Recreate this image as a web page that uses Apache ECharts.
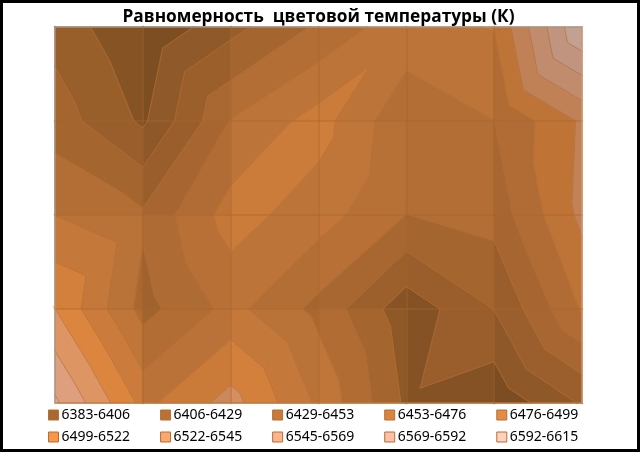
<!DOCTYPE html>
<html>
<head>
<meta charset="utf-8">
<style>html,body{margin:0;padding:0;background:#fff}#c{width:640px;height:452px}</style>
<script src="https://cdn.jsdelivr.net/npm/echarts@6/dist/echarts.min.js"></script>
</head>
<body>
<div id="c"></div>
<script>
const title = 'Равномерность  цветовой температуры (К)';
const thresholds = [6383, 6406, 6429, 6453, 6476, 6499, 6522, 6545, 6569, 6592, 6615];
const bandLabels = ['6383-6406','6406-6429','6429-6453','6453-6476','6476-6499',
                    '6499-6522','6522-6545','6545-6569','6569-6592','6592-6615'];
const row0 = [6420.1, 6385.3, 6421.3, 6456.8, 6492.0, 6500.2, 6615.0];
const row1 = [6441.0, 6402.0, 6477.0, 6508.7, 6457.7, 6475.8, 6525.7];
const row2 = [6475.8, 6456.8, 6509.0, 6486.7, 6452.6, 6461.9, 6528.0];
const row3 = [6522.2, 6444.5, 6483.5, 6446.1, 6391.4, 6429.4, 6501.3];
const row4 = [6573.2, 6492.5, 6531.0, 6471.9, 6401.6, 6387.6, 6431.7];
const bandColors = ['#a9692e','#b97234','#c77a39','#d98540','#e58c44',
                    '#f79646','#f9a870','#fab48e','#fbc0a5','#fcd1bd'];

const grid = [row0, row1, row2, row3, row4];
const step = 23.2;

// Each cell of the surface is cut into four facets that meet at a centre point.
// The cell's left-right slope sets how brightly its facets are lit.
const facets = [], facetShade = [];
for (let r = 0; r < grid.length - 1; r++) {
  for (let c = 0; c < grid[0].length - 1; c++) {
    const tl = [c, r, grid[r][c]], tr = [c + 1, r, grid[r][c + 1]];
    const bl = [c, r + 1, grid[r + 1][c]], br = [c + 1, r + 1, grid[r + 1][c + 1]];
    const mid = [c + .5, r + .5, Math.max((tl[2] + br[2]) / 2, (tr[2] + bl[2]) / 2)];
    facets.push([tl, tr, mid], [tr, br, mid], [br, bl, mid], [bl, tl, mid]);
    const slope = ((tr[2] - tl[2]) + (br[2] - bl[2])) / 2 / step;
    const over = slope > 1.5 ? slope - 1.5 : slope < -1.5 ? slope + 1.5 : 0;
    const k = Math.min(.885, Math.max(.77, .825 - .05 * over));
    facetShade.push(k, k, k, k);
  }
}
function clip(poly, level, keepAbove) {
  const out = [];
  for (let i = 0; i < poly.length; i++) {
    const a = poly[i], b = poly[(i + 1) % poly.length];
    const ina = keepAbove ? a[2] >= level : a[2] <= level;
    const inb = keepAbove ? b[2] >= level : b[2] <= level;
    if (ina) out.push(a);
    if (ina !== inb) {
      const t = (level - a[2]) / (b[2] - a[2]);
      out.push([a[0] + t * (b[0] - a[0]), a[1] + t * (b[1] - a[1]), level]);
    }
  }
  return out;
}
function shaded(hex, k) {
  const n = parseInt(hex.slice(1), 16);
  return 'rgb(' + [n >> 16, (n >> 8) & 255, n & 255].map(v => Math.round(v * k)).join(',') + ')';
}
const facetIds = facets.map((_, i) => [i]);

const bandSeries = bandLabels.map((name, k) => ({
  type: 'custom', name, coordinateSystem: 'cartesian2d', silent: true, z: 2,
  animation: false, data: facetIds, encode: {x: 0, y: 0},
  itemStyle: {color: bandColors[k]},
  renderItem(params, api) {
    const i = api.value(0), f = facets[i];
    const poly = clip(clip(f, thresholds[k], true), thresholds[k + 1], false);
    if (poly.length < 3) return null;
    const col = shaded(bandColors[k], facetShade[i] * (k === 0 ? .95 : 1));
    return {type: 'polygon', shape: {points: poly.map(p => api.coord([p[0], p[1]]))},
            style: {fill: col, stroke: col, lineWidth: 1.2}};
  }
}));
const contourSeries = {
  type: 'custom', name: 'contours', coordinateSystem: 'cartesian2d', silent: true, z: 5,
  animation: false, data: facetIds, encode: {x: 0, y: 0},
  renderItem(params, api) {
    const f = facets[api.value(0)];
    const children = [];
    thresholds.slice(1, -1).forEach(level => {
      const pts = [];
      for (let i = 0; i < 3; i++) {
        const a = f[i], b = f[(i + 1) % 3];
        if ((a[2] < level) !== (b[2] < level)) {
          const t = (level - a[2]) / (b[2] - a[2]);
          pts.push(api.coord([a[0] + t * (b[0] - a[0]), a[1] + t * (b[1] - a[1])]));
        }
      }
      if (pts.length === 2) children.push({type: 'polyline', shape: {points: pts},
        style: {stroke: 'rgba(176,108,52,.7)', lineWidth: 1, fill: null}});
    });
    return {type: 'group', children};
  }
};
const edgeSeries = {
  type: 'custom', name: 'edges', coordinateSystem: 'cartesian2d', silent: true, z: 6,
  animation: false, data: [[0]], encode: {x: 0, y: 0},
  renderItem(params, api) {
    const rows = grid.length - 1, cols = grid[0].length - 1;
    const line = (a, b, stroke) => ({type: 'polyline', shape: {points: [api.coord(a), api.coord(b)]},
      style: {stroke, lineWidth: 1, fill: null}});
    return {type: 'group', children: [
      line([0, rows], [cols, rows], '#c48348'),
      line([cols, 0], [cols, rows], '#dfa883'),
      line([0, 0], [cols, 0], '#a6a6a6'),
      line([0, 0], [0, rows], '#a6a6a6')
    ]};
  }
};
const legendRow = (names, top) => ({
  left: 48, top, padding: 0, orient: 'horizontal', width: 590, itemWidth: 10, itemHeight: 10, itemGap: 30,
  icon: 'rect', selectedMode: false,
  textStyle: {fontFamily: 'Noto Sans', fontSize: 14, color: '#000', width: 70, padding: [0, 0, 0, -2]},
  data: names.map(name => ({name, itemStyle: {color: bandColors[bandLabels.indexOf(name)],
    borderColor: '#b46f36', borderWidth: 1}}))
});
const axisBase = {type: 'value', min: 0, interval: 1, z: 4,
  axisLabel: {show: false}, axisTick: {show: false}, axisLine: {show: false},
  splitLine: {show: true, lineStyle: {color: 'rgba(170,102,46,.5)', width: 1.5}}};

const chart = echarts.init(document.getElementById('c'), null, {renderer: 'canvas'});
chart.setOption({
  backgroundColor: '#fff',
  animation: false,
  title: {text: title, left: 318.5, top: 9, padding: 0, textAlign: 'center',
    textStyle: {fontFamily: 'Open Sans', fontWeight: 'bold', fontSize: 17.3, color: '#000'}},
  grid: {left: 55, right: 58, top: 27, bottom: 49},
  xAxis: Object.assign({}, axisBase, {max: grid[0].length - 1}),
  yAxis: Object.assign({}, axisBase, {max: grid.length - 1, inverse: true}),
  legend: [legendRow(bandLabels.slice(0, 5), 408), legendRow(bandLabels.slice(5), 430)],
  series: bandSeries.concat([contourSeries, edgeSeries]),
  graphic: [{type: 'rect', z: 100, silent: true, shape: {x: 1.5, y: 1.5, width: 637, height: 449},
    style: {fill: null, stroke: '#000', lineWidth: 3}}]
});
</script>
</body>
</html>
